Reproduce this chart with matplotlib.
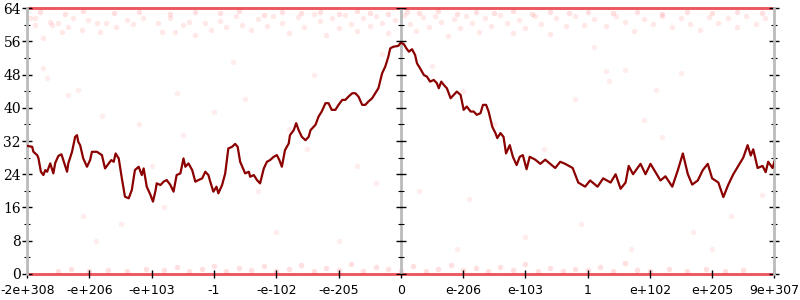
import matplotlib
matplotlib.use('Agg')
import matplotlib.pyplot as plt
import numpy as np

# x tick labels (one per unit on the x axis)
tick_labels = ['-2e+308', '-e+206', '-e+103', '-1', '-e-102', '-e-205', '0',
               'e-206', 'e-103', '1', 'e+102', 'e+205', '9e+307']

# main line (x in tick units, y value)
line_x = [0.01, 0.08, 0.10, 0.16, 0.18, 0.22, 0.26, 0.29, 0.32, 0.37, 0.42, 0.45, 0.50, 0.55, 0.58,
          0.64, 0.66, 0.72, 0.77, 0.80, 0.82, 0.85, 0.90, 0.96, 1.01, 1.04, 1.12, 1.20, 1.25, 1.31,
          1.35, 1.39, 1.42, 1.47, 1.52, 1.57, 1.63, 1.68, 1.73, 1.79, 1.84, 1.87, 1.92, 1.98, 2.02,
          2.06, 2.08, 2.14, 2.19, 2.24, 2.30, 2.35, 2.40, 2.46, 2.51, 2.54, 2.59, 2.65, 2.70, 2.75,
          2.81, 2.86, 2.91, 2.94, 2.99, 3.04, 3.07, 3.13, 3.18, 3.23, 3.29, 3.34, 3.38, 3.42, 3.50,
          3.56, 3.58, 3.64, 3.69, 3.74, 3.80, 3.85, 3.90, 3.96, 4.01, 4.05, 4.09, 4.14, 4.20, 4.22,
          4.28, 4.32, 4.36, 4.41, 4.47, 4.52, 4.55, 4.63, 4.68, 4.73, 4.79, 4.84, 4.89, 4.95, 5.00,
          5.06, 5.11, 5.16, 5.22, 5.27, 5.32, 5.38, 5.43, 5.48, 5.54, 5.59, 5.64, 5.70, 5.75, 5.80,
          5.83, 5.88, 5.96, 6.00, 6.05, 6.09, 6.13, 6.18, 6.23, 6.26, 6.31, 6.37, 6.42, 6.47, 6.53,
          6.58, 6.61, 6.65, 6.69, 6.74, 6.80, 6.85, 6.90, 6.96, 7.01, 7.06, 7.12, 7.17, 7.22, 7.28,
          7.32, 7.37, 7.41, 7.47, 7.52, 7.55, 7.60, 7.65, 7.69, 7.75, 7.80, 7.86, 7.91, 7.96, 8.02,
          8.07, 8.16, 8.24, 8.32, 8.40, 8.48, 8.56, 8.64, 8.76, 8.85, 8.96, 9.04, 9.16, 9.25, 9.37,
          9.45, 9.53, 9.61, 9.66, 9.73, 9.85, 9.93, 10.01, 10.09, 10.17, 10.25, 10.36, 10.45, 10.53,
          10.61, 10.68, 10.77, 10.85, 10.93, 11.00, 11.10, 11.18, 11.26, 11.34, 11.42, 11.50, 11.57,
          11.62, 11.66, 11.73, 11.81, 11.86, 11.90, 11.97, 12.00]
line_y = [30.8, 30.6, 29.4, 28.6, 27.9, 24.6, 23.8, 25.0, 24.6, 26.6, 24.2, 26.7, 28.4, 28.8, 27.4,
          24.6, 26.6, 29.4, 33.0, 33.4, 31.8, 31.0, 27.8, 25.8, 27.4, 29.4, 29.4, 28.6, 25.4, 26.6,
          27.4, 27.0, 29.0, 27.8, 23.0, 18.6, 18.2, 20.2, 25.0, 25.8, 23.8, 25.4, 21.0, 19.0, 17.4,
          20.0, 21.8, 21.4, 22.2, 22.6, 21.4, 19.8, 23.8, 24.2, 27.8, 25.8, 26.6, 25.0, 22.2, 22.6,
          23.0, 24.6, 23.8, 22.2, 19.8, 21.0, 19.4, 21.4, 24.2, 30.2, 30.6, 31.3, 30.6, 27.0, 24.2,
          24.6, 23.4, 23.8, 22.6, 21.8, 25.4, 27.0, 27.4, 28.2, 28.6, 27.4, 25.8, 29.8, 31.4, 33.4,
          34.6, 36.3, 34.6, 33.0, 32.2, 33.0, 34.6, 35.9, 37.9, 39.1, 41.1, 41.1, 39.5, 39.5, 40.7,
          41.9, 41.9, 42.7, 43.5, 43.5, 42.7, 40.7, 40.7, 41.5, 42.3, 43.5, 44.7, 48.3, 49.9, 52.3,
          54.3, 54.7, 54.9, 55.7, 55.3, 54.3, 53.5, 54.1, 52.7, 50.7, 49.5, 47.9, 47.5, 46.3, 46.7,
          45.9, 44.7, 46.3, 45.5, 44.7, 42.3, 43.1, 43.9, 43.1, 39.5, 40.3, 39.1, 39.1, 38.3, 38.7,
          40.7, 40.7, 39.1, 35.4, 33.9, 32.7, 33.9, 33.0, 29.0, 31.0, 28.2, 26.2, 28.2, 28.6, 25.2,
          28.2, 27.5, 26.5, 27.5, 26.5, 25.5, 27.0, 26.5, 25.5, 22.0, 21.0, 22.5, 21.0, 23.0, 22.0,
          24.0, 20.5, 22.0, 26.0, 24.0, 26.5, 24.0, 26.5, 24.5, 22.5, 23.5, 21.0, 25.0, 29.0,
          24.0, 21.5, 22.5, 25.0, 26.5, 23.0, 22.0, 18.5, 21.5, 24.0, 26.0, 28.0, 31.0,
          28.5, 30.0, 25.5, 26.0, 24.5, 27.0, 25.5, 27.0]

# faint sample points near the top
top_x = [0.05, 0.13, 0.13, 0.26, 0.37, 0.40, 0.50, 0.56, 0.66, 0.74, 0.88, 0.98, 1.12, 1.17, 1.27,
         1.43, 1.60, 1.70, 1.86, 2.10, 2.17, 2.30, 2.38, 2.50, 2.60, 2.70, 2.85, 2.95,
         3.10, 3.20, 3.35, 3.45, 3.60, 3.70, 3.85, 3.95, 4.10, 4.20, 4.35, 4.45, 4.60, 4.70, 4.80,
         4.90, 5.00, 5.10, 5.20, 5.30, 5.40, 5.50, 5.60, 5.70, 5.80, 5.90, 6.05, 6.15, 6.25, 6.35,
         6.45, 6.55, 6.65, 6.75, 6.85, 6.95, 7.05, 7.15, 7.25, 7.35, 7.45, 7.60, 7.70, 7.80, 7.90,
         8.00, 8.15, 8.25, 8.40, 8.50, 8.65, 8.80, 8.95, 9.10, 9.30, 9.45, 9.60, 9.75, 9.90, 10.05,
         10.20, 10.35, 10.50, 10.65, 10.80, 10.95, 11.10, 11.25, 11.40, 11.55, 11.70, 11.85]
top_y = [61.6, 61.6, 59.9, 56.8, 60.6, 59.9, 60.3, 58.2, 59.4, 61.6, 58.7, 61.2, 60.3, 58.2, 60.3,
         59.4, 61.2, 60.2, 61.6, 60.3, 58.2, 61.6, 58.2, 59.9, 60.6, 57.5, 60.4, 58.8,
         61.0, 59.5, 62.0, 60.0, 58.7, 61.4, 59.8, 62.2, 60.5, 58.0, 61.8, 59.5, 62.5, 60.8, 57.6,
         61.5, 59.2, 62.3, 60.2, 58.4, 61.7, 59.6, 62.1, 60.4, 57.9, 61.2, 62.4, 60.1, 58.6, 61.8,
         59.4, 62.2, 60.7, 57.3, 61.4, 59.1, 62.0, 60.3, 58.2, 61.6, 59.7, 62.3, 60.5, 58.0, 61.1,
         59.3, 62.1, 60.2, 57.8, 61.5, 59.6, 62.0, 60.0, 61.3, 59.8, 62.0, 60.6, 58.5, 61.4, 60.2,
         62.0, 59.5, 61.5, 60.2, 58.8, 61.8, 60.3, 61.6, 59.4, 62.0, 60.1, 61.5]

# sample points packed just under the top
edge_x = [0.2, 0.6, 0.9, 1.4, 1.8, 2.3, 2.7, 3.1, 3.4, 3.8, 4.1, 4.4, 4.7, 5.0, 5.3, 5.5, 5.8,
          6.1, 6.3, 6.6, 6.9, 7.2, 7.5, 7.8, 8.1, 8.4, 8.7, 9.0, 9.4, 9.8, 10.2, 10.6, 11.0, 11.4, 11.8]
edge_y = [63.0, 62.6, 63.2, 62.8, 63.1, 62.5, 63.0, 62.7, 63.2, 62.4, 63.0, 62.8, 63.1, 62.6, 63.2,
          62.9, 62.5, 63.1, 62.7, 63.2, 62.6, 63.0, 62.8, 63.2, 62.5, 63.0, 62.7, 63.1, 62.8, 63.0,
          62.6, 63.1, 62.9, 63.0, 62.7]

# sparse points in the middle
mid_x = [0.25, 0.32, 0.82, 0.66, 2.40, 1.20, 1.80, 2.50, 3.00, 3.50, 4.20, 4.50, 5.30, 5.60, 3.70,
         2.20, 1.50, 0.90, 4.00, 5.00, 6.50, 7.00, 7.50, 8.30, 8.80, 9.30, 9.60, 10.50, 9.35, 10.10,
         9.10, 6.30, 7.10, 8.90, 10.70, 11.30, 11.80, 10.20, 9.90, 3.30, 4.60, 5.70, 2.00, 1.10,
         6.90, 8.00, 9.70, 11.00]
mid_y = [49.6, 47.2, 44.3, 43.0, 43.5, 38.0, 36.0, 33.5, 39.0, 42.0, 35.0, 30.0, 26.0, 22.0, 20.0,
         16.0, 12.0, 14.0, 10.0, 8.0, 50.0, 44.0, 36.0, 30.0, 42.0, 48.8, 49.1, 48.4, 46.4, 44.3,
         54.6, 20.0, 18.0, 12.0, 10.0, 14.0, 19.0, 33.0, 37.0, 51.0, 48.0, 53.0, 26.0, 8.0,
         6.0, 9.0, 6.0, 6.0]

# faint sample points near the bottom
bot_x = [0.5, 0.7, 1.0, 1.3, 1.6, 1.9, 2.2, 2.4, 2.6, 2.8, 3.0, 3.2, 3.4, 3.6, 3.8, 4.0, 4.2, 4.4,
         4.6, 4.8, 5.0, 5.2, 5.4, 5.6, 5.8, 6.0, 6.2, 6.4, 6.6, 6.8, 7.0, 7.2, 7.4, 7.6, 7.8, 8.0,
         8.2, 8.4, 8.6, 8.8, 9.0, 9.2, 9.4, 9.6, 9.8, 10.0, 10.3, 10.6, 10.9, 11.2, 11.5]
bot_y = [0.8, 1.2, 0.6, 1.0, 0.7, 1.3, 0.9, 1.6, 0.8, 1.2, 2.0, 0.7, 1.4, 0.9, 1.8, 0.6, 1.3, 2.2,
         0.8, 1.5, 1.0, 2.4, 0.7, 1.6, 1.1, 0.8, 1.9, 0.6, 1.3, 2.1, 0.9, 1.5, 0.7, 1.7, 1.0, 2.3,
         0.8, 1.4, 0.6, 1.2, 0.9, 1.7, 0.7, 2.6, 1.0, 0.8, 1.3, 0.7, 1.1, 0.6, 0.9]

band_y = [0, 64]

fig = plt.figure(figsize=(8, 3), dpi=100)
ax = fig.add_axes([0.034, 0.087, 0.934, 0.886])

# dense bands of samples at min and max
for b in band_y:
    ax.plot([0, 12], [b, b], color='#e8202a', alpha=0.75, lw=2.1, solid_capstyle='butt',
            zorder=1, clip_on=False)

for xs, ys, a in [(top_x, top_y, 0.09), (edge_x, edge_y, 0.12), (mid_x, mid_y, 0.07),
                  (bot_x, bot_y, 0.12)]:
    ax.scatter(xs, ys, s=16, color='red', alpha=a, lw=0, zorder=1)

ax.plot(line_x, line_y, color='#8b0000', lw=1.6, zorder=3)

ax.set_xlim(0, 12)
ax.set_ylim(0, 64)
ax.set_xticks(range(len(tick_labels)))
ax.set_xticklabels(tick_labels, fontsize=9, family='DejaVu Sans')
ax.set_yticks(range(0, 65, 8))
ax.set_yticks(range(4, 64, 8), minor=True)
for lab in ax.get_yticklabels():
    lab.set_family('DejaVu Serif')
    lab.set_fontsize(10)

for s in ['top', 'bottom']:
    ax.spines[s].set_visible(False)
for s in ['left', 'right']:
    ax.spines[s].set_color('#bbbbbb')
    ax.spines[s].set_linewidth(2)

ax.tick_params(axis='y', which='major', direction='inout', length=7, width=1, right=True, pad=1)
ax.tick_params(axis='y', which='minor', direction='inout', length=4, width=0.8, right=True)
ax.tick_params(axis='x', direction='inout', length=6, width=1, pad=4)

# middle axis at zero
ax.axvline(6, color='#bbbbbb', lw=2, zorder=2)
ax.plot([6] * 9, list(range(0, 65, 8)), ls='none', marker='_', ms=7, mew=1, color='black', zorder=4)
ax.plot([6] * 8, list(range(4, 64, 8)), ls='none', marker='_', ms=4, mew=0.8, color='black', zorder=4)

fig.savefig('out.png', dpi=100)
